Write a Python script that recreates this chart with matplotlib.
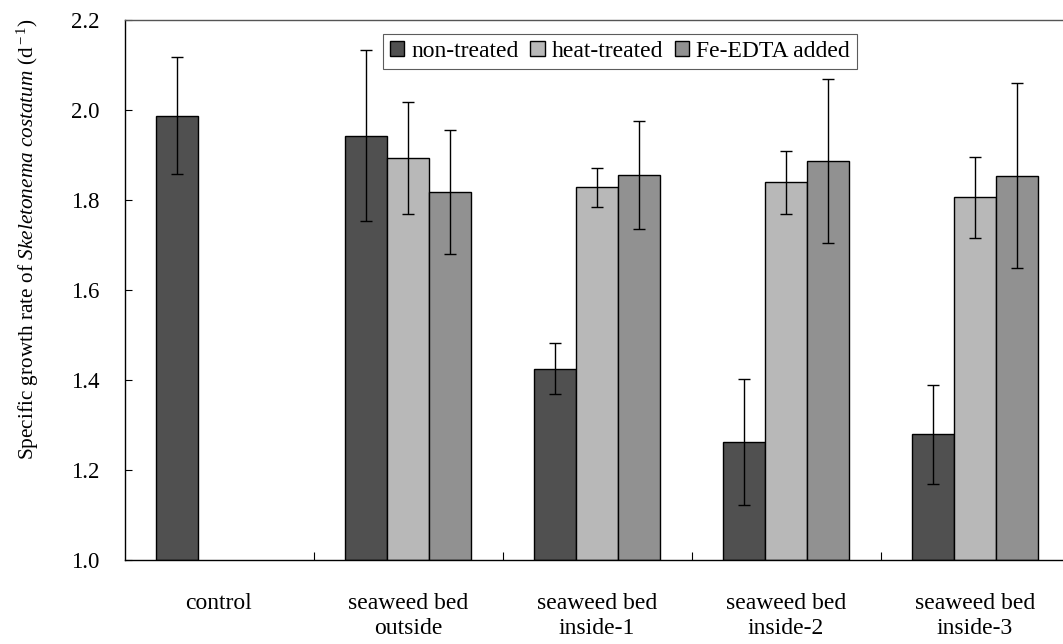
import matplotlib
matplotlib.use("Agg")
import matplotlib.pyplot as plt
from matplotlib.font_manager import FontProperties
import numpy as np

# ---------------------------------------------------------------------------
# Data
# ---------------------------------------------------------------------------
categories = ["control", "seaweed bed\noutside", "seaweed bed\ninside-1",
              "seaweed bed\ninside-2", "seaweed bed\ninside-3"]
series_names = ["non-treated", "heat-treated", "Fe-EDTA added"]

non_treated = [1.987, 1.943, 1.425, 1.262, 1.280]
non_treated_err = [0.13, 0.19, 0.057, 0.14, 0.11]

heat_treated = [np.nan, 1.893, 1.828, 1.839, 1.806]
heat_treated_err = [np.nan, 0.125, 0.043, 0.07, 0.09]

fe_edta = [np.nan, 1.818, 1.856, 1.887, 1.854]
fe_edta_err = [np.nan, 0.138, 0.12, 0.183, 0.205]

yticks = [1.0, 1.2, 1.4, 1.6, 1.8, 2.0, 2.2]

# ---------------------------------------------------------------------------
# Style
# ---------------------------------------------------------------------------
plt.rcParams["font.family"] = ["Liberation Serif", "DejaVu Serif"]
plt.rcParams["mathtext.fontset"] = "custom"
plt.rcParams["mathtext.rm"] = "Liberation Serif"
plt.rcParams["mathtext.it"] = "Liberation Serif:italic"

colors = ["#505050", "#b8b8b8", "#919191"]

fig = plt.figure(figsize=(10.63, 6.44), dpi=100)
ax = fig.add_axes([124.5 / 1063, 84 / 644, 945 / 1063, 540 / 644])

x = np.arange(len(categories))
bw = 0.222
for i, (vals, errs) in enumerate([(non_treated, non_treated_err),
                                  (heat_treated, heat_treated_err),
                                  (fe_edta, fe_edta_err)]):
    ax.bar(x + (i - 1) * bw, np.array(vals) - 1.0, bottom=1.0, width=bw,
           color=colors[i], edgecolor="black", linewidth=1.0,
           label=series_names[i], zorder=2)
    ax.errorbar(x + (i - 1) * bw, vals, yerr=errs, fmt="none",
                ecolor="black", elinewidth=1.0, capsize=4, capthick=1.0,
                zorder=3)

ax.set_xlim(-0.5, 4.5)
ax.set_ylim(1.0, 2.2)
ax.set_yticks(yticks)
ax.set_yticklabels([f"{v:.1f}" for v in yticks])

# category labels at centres, small tick marks at category boundaries
ax.set_xticks(x)
ax.set_xticklabels(categories, linespacing=1.25)
ax.set_xticks(np.arange(0.5, 4.5, 1.0), minor=True)
ax.tick_params(axis="x", which="major", length=0, pad=24, labelsize=17)
ax.tick_params(axis="x", which="minor", direction="in", length=6, width=0.8)
ax.tick_params(axis="y", direction="in", length=5, width=0.8, pad=18,
               labelsize=16.5)

for side in ("left", "bottom"):
    ax.spines[side].set_linewidth(1.0)
ax.spines["top"].set_color("#555555")
ax.spines["top"].set_linewidth(1.0)
ax.spines["right"].set_visible(False)

fig.text(28 / 1063, 1 - 239 / 644,
         r"Specific growth rate of $\it{Skeletonema\ costatum}$ (d$^{\rm -1}$)",
         rotation=90, ha="center", va="center", fontsize=15.3)

leg = ax.legend(loc="upper center",
                bbox_to_anchor=((620 - 124.5) / 945, 1 - 14 / 540),
                ncol=3, prop=FontProperties(family="Liberation Serif", size=17),
                frameon=True, fancybox=False,
                handlelength=0.6, handleheight=0.6, handletextpad=0.3,
                columnspacing=0.5, borderpad=0.3, borderaxespad=0)
leg.get_frame().set_edgecolor("#333333")
leg.get_frame().set_linewidth(0.8)

fig.savefig("out.png", dpi=100)
